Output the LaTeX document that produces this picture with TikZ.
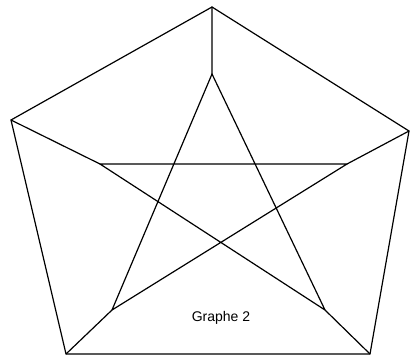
\documentclass[tikz,border=0pt]{standalone}
\usepackage{fontspec}
\setmainfont{Liberation Sans}
\begin{document}
\begin{tikzpicture}[x=1pt,y=-1pt,
  edge/.style={line width=1.2pt,line join=round,line cap=round},
  vtx/.style={coordinate}]
\useasboundingbox (0,0) rectangle (411,356);
\coordinate (o1) at (212,7);
\coordinate (o2) at (11,120);
\coordinate (o3) at (409,131);
\coordinate (o4) at (66,354);
\coordinate (o5) at (370,354);
\coordinate (i1) at (212,74);
\coordinate (i2) at (100,164);
\coordinate (i3) at (347,164);
\coordinate (i4) at (112,310);
\coordinate (i5) at (325,310);
\draw[edge] (o1) -- (o2) -- (o4) -- (o5) -- (o3) -- cycle;
\draw[edge] (o1) -- (i1) (o2) -- (i2) (o3) -- (i3) (o4) -- (i4) (o5) -- (i5);
\draw[edge] (i1) -- (i4) (i1) -- (i5) (i2) -- (i3) (i2) -- (i5) (i3) -- (i4);
\node[font=\fontsize{14}{16}\selectfont, anchor=base] (lab) at (221,321) {Graphe 2};
\end{tikzpicture}
\end{document}
